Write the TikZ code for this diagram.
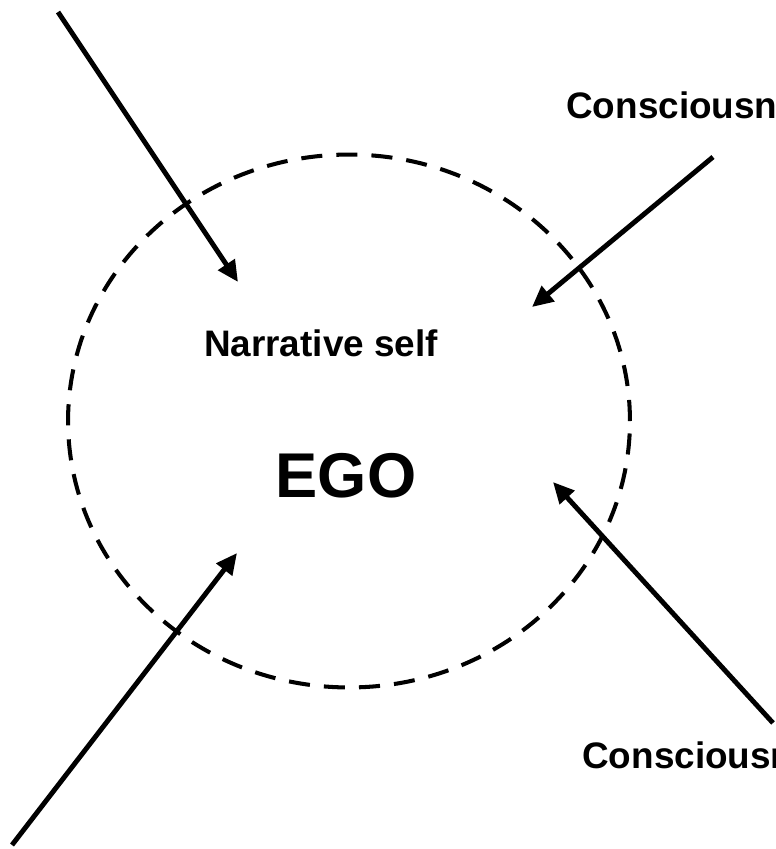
\documentclass[tikz,border=0pt]{standalone}
\usepackage{fontspec}
\setmainfont{Liberation Sans}
\usepackage{xcolor}
\usepackage{tikz}
\definecolor{egoInk}{HTML}{000000}
\usetikzlibrary{arrows.meta,positioning,shapes.geometric}

\begin{document}
\begin{tikzpicture}[
  x=0.02cm, y=-0.02cm,
  font=\bfseries,
  boundary/.style={draw=egoInk, line width=2.3pt, dash pattern=on 12pt off 8pt, ellipse, minimum width=11.24cm, minimum height=10.66cm, inner sep=0pt},
  influence/.style={-{Triangle[length=12pt, width=11pt]}, line width=2.8pt, egoInk},
  smalllabel/.style={text=egoInk, inner sep=0pt, font=\fontsize{21}{25}\selectfont\bfseries},
  biglabel/.style={text=egoInk, inner sep=0pt, font=\fontsize{36}{43}\selectfont\bfseries}
]
\useasboundingbox (0,0) rectangle (775,849);
\clip (0,0) rectangle (775,849);

% Ego boundary
\node[boundary] (ego) at (349,421) {};

% Labels
\node[smalllabel, anchor=base] (narrative) at (321,356) {Narrative self};
\node[biglabel, anchor=base] (egotext) at (346,497) {EGO};
\node[smalllabel, anchor=base west] (conscTop) at (566,118) {Consciousness};
\node[smalllabel, anchor=base west] (conscBot) at (582,768) {Consciousness};

% Arrow ends
\coordinate (tlStart) at (58,12);
\coordinate (tlTip) at (238,282);
\coordinate (trStart) at (713,157);
\coordinate (trTip) at (532,307);
\coordinate (blStart) at (12,845);
\coordinate (blTip) at (237,553);
\coordinate (brStart) at (773,723);
\coordinate (brTip) at (553,482);

% Influences
\draw[influence] (tlStart) -- (tlTip);
\draw[influence] (trStart) -- (trTip);
\draw[influence] (blStart) -- (blTip);
\draw[influence] (brStart) -- (brTip);

\end{tikzpicture}
\end{document}
